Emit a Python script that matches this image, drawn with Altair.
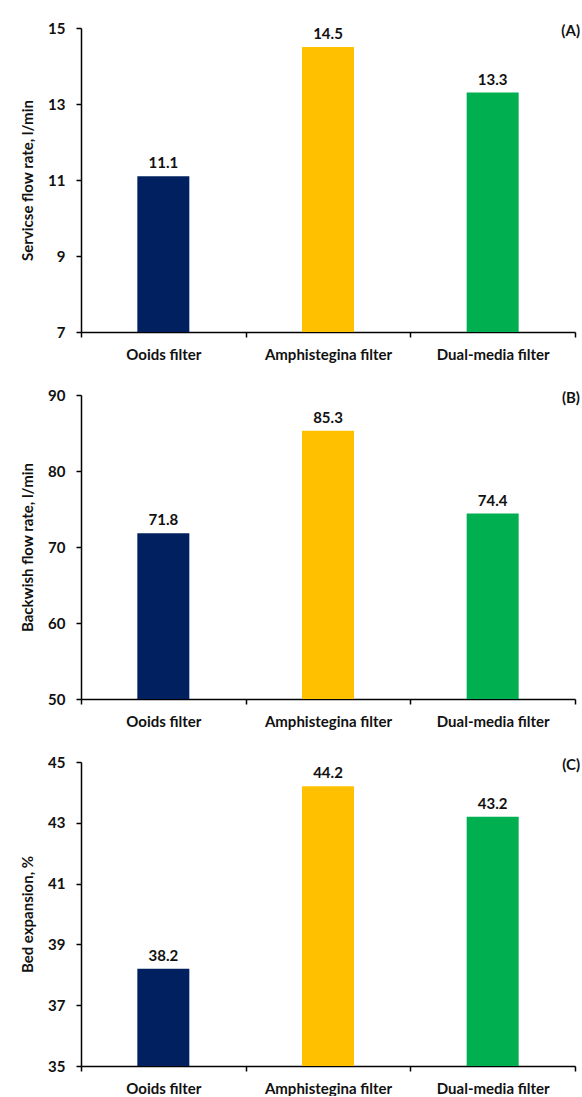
import altair as alt
import pandas as pd

categories = ["Ooids filter", "Amphistegina filter", "Dual-media filter"]
colors = ["#002060", "#FFC000", "#00B050"]

service_flow = [11.1, 14.5, 13.3]
backwash_flow = [71.8, 85.3, 74.4]
bed_expansion = [38.2, 44.2, 43.2]

titles = ["Servicse flow rate, l/min", "Backwish flow rate, l/min", "Bed expansion, %"]
domains = [[7, 15], [50, 90], [35, 45]]
tick_values = [[7, 9, 11, 13, 15], [50, 60, 70, 80, 90], [35, 37, 39, 41, 43, 45]]
tags = ["(A)", "(B)", "(C)"]
series = [service_flow, backwash_flow, bed_expansion]

FONT = "Lato"
W, H = 494, 304
FS = 15


def panel(title, values, domain, ticks, tag):
    df = pd.DataFrame({"cat": categories, "val": values, "color": colors})
    base = alt.Chart(df).encode(
        x=alt.X(
            "cat:N",
            sort=categories,
            scale=alt.Scale(paddingInner=0, paddingOuter=0),
            axis=alt.Axis(
                title=None,
                labelAngle=0,
                tickBand="extent",
                labelFont=FONT,
                labelFontWeight="bold",
                labelFontSize=FS,
                labelColor="#111111",
                labelPadding=10,
                tickSize=5,
            ),
        ),
        y=alt.Y(
            "val:Q",
            scale=alt.Scale(domain=domain, nice=False, zero=False),
            axis=alt.Axis(
                values=ticks,
                title=title,
                grid=False,
                labelFont=FONT,
                labelFontWeight="bold",
                labelFontSize=FS,
                labelColor="#111111",
                labelPadding=11,
                tickSize=5,
                titleFont=FONT,
                titleFontWeight="bold",
                titleFontSize=FS,
                titleColor="#111111",
                titlePadding=12,
            ),
        ),
    )
    bars = base.mark_bar(width=52).encode(
        y2=alt.datum(domain[0]),
        color=alt.Color("color:N", scale=None),
    )
    labels = base.mark_text(
        dy=-5, baseline="bottom", font=FONT, fontWeight="bold", fontSize=FS, color="#111111"
    ).encode(text=alt.Text("val:Q", format=".1f"))
    tag_chart = alt.Chart(pd.DataFrame({"t": [tag]})).mark_text(
        align="right", baseline="top", font=FONT, fontWeight="bold", fontSize=15, color="#111111"
    ).encode(x=alt.value(W + 5), y=alt.value(-4), text="t:N")
    return alt.layer(bars, labels, tag_chart).properties(width=W, height=H)


charts = [panel(titles[i], series[i], domains[i], tick_values[i], tags[i]) for i in range(3)]

chart = (
    alt.vconcat(*charts, spacing=26)
    .properties(padding={"left": 20, "top": 21, "right": 0, "bottom": 0})
    .configure_view(stroke=None)
    .configure_axis(
        domainColor="#000000",
        domainWidth=1.5,
        tickColor="#000000",
        tickWidth=1.5,
    )
)

chart.save("out.html", embed_options={"renderer": "svg", "actions": False})
